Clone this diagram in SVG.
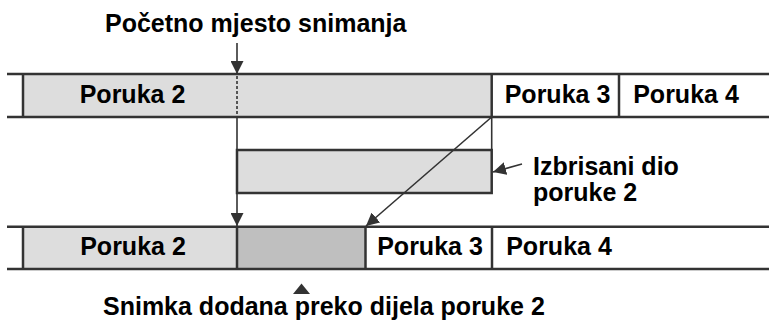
<svg xmlns="http://www.w3.org/2000/svg" width="769" height="326" viewBox="0 0 769 326">
<style>
  text { font-family: "Liberation Sans", Arial, sans-serif; font-weight: bold; font-size: 25px; fill: #000; }
  .bar { stroke: #333; stroke-width: 2.5; fill: none; }
  .light { fill: #dddddd; }
  .dark { fill: #bfbfbf; }
  .white { fill: #ffffff; }
  .con { stroke: #333; stroke-width: 1.6; fill: none; }
</style>
<defs>
  <marker id="ah" markerUnits="userSpaceOnUse" viewBox="0 0 13 13" refX="13" refY="6.5" markerWidth="13" markerHeight="13" orient="auto">
    <path d="M0,0 L13,6.5 L0,13 z" fill="#333"/>
  </marker>
</defs>
<rect width="769" height="326" fill="#fff"/>

<g id="top-bar">
  <rect class="light" x="23" y="74" width="468.7" height="43"/>
  <line class="bar" x1="7" y1="74" x2="769" y2="74"/>
  <line class="bar" x1="7" y1="117" x2="769" y2="117"/>
  <line class="bar" x1="23" y1="74" x2="23" y2="117"/>
  <g id="top-poruka2"><text x="132.5" y="103" text-anchor="middle">Poruka 2</text></g>
  <line class="bar" x1="491.7" y1="74" x2="491.7" y2="117"/>
  <g id="top-poruka3"><text x="557.5" y="103" text-anchor="middle">Poruka 3</text></g>
  <line class="bar" x1="619" y1="74" x2="619" y2="117"/>
  <g id="top-poruka4"><text x="686" y="103" text-anchor="middle">Poruka 4</text></g>
</g>

<g id="deleted-part">
  <rect class="light" x="237" y="150" width="254.7" height="43" stroke="#333" stroke-width="2.5"/>
</g>

<g id="bottom-bar">
  <rect class="light" x="23" y="226.7" width="214" height="42.3"/>
  <rect class="dark" x="237" y="226.7" width="128.5" height="42.3"/>
  <line class="bar" x1="7" y1="226.7" x2="769" y2="226.7"/>
  <line class="bar" x1="7" y1="269" x2="769" y2="269"/>
  <line class="bar" x1="23" y1="226.7" x2="23" y2="269"/>
  <line class="bar" x1="237" y1="226.7" x2="237" y2="269"/>
  <line class="bar" x1="365.5" y1="226.7" x2="365.5" y2="269"/>
  <line class="bar" x1="492" y1="226.7" x2="492" y2="269"/>
  <g id="bottom-poruka2"><text x="133" y="255" text-anchor="middle">Poruka 2</text></g>
  <g id="bottom-snimka"></g>
  <g id="bottom-poruka3"><text x="430" y="255" text-anchor="middle">Poruka 3</text></g>
  <g id="bottom-poruka4"><text x="559" y="255" text-anchor="middle">Poruka 4</text></g>
</g>

<g id="connectors">
  <line class="con" x1="237" y1="43" x2="237" y2="74" marker-end="url(#ah)"/>
  <line class="con" x1="237" y1="76" x2="237" y2="117" stroke-width="2" stroke-dasharray="3,2"/>
  <line class="con" x1="237" y1="117" x2="237" y2="226" marker-end="url(#ah)"/>
  <line class="con" x1="491.7" y1="117" x2="491.7" y2="150"/>
  <line class="con" x1="491.7" y1="117" x2="366" y2="226" stroke-width="1.4" marker-end="url(#ah)"/>
  <line class="con" x1="522" y1="164" x2="493" y2="172" marker-end="url(#ah)"/>
  <path d="M301.5,283.5 L310,294 L293,294 z" fill="#333"/>
</g>

<g id="labels">
  <text x="105" y="31.5">Početno mjesto snimanja</text>
  <text x="533" y="175">Izbrisani dio</text>
  <text x="533" y="201">poruke 2</text>
  <text x="103" y="315">Snimka dodana preko dijela poruke 2</text>
</g>
</svg>
